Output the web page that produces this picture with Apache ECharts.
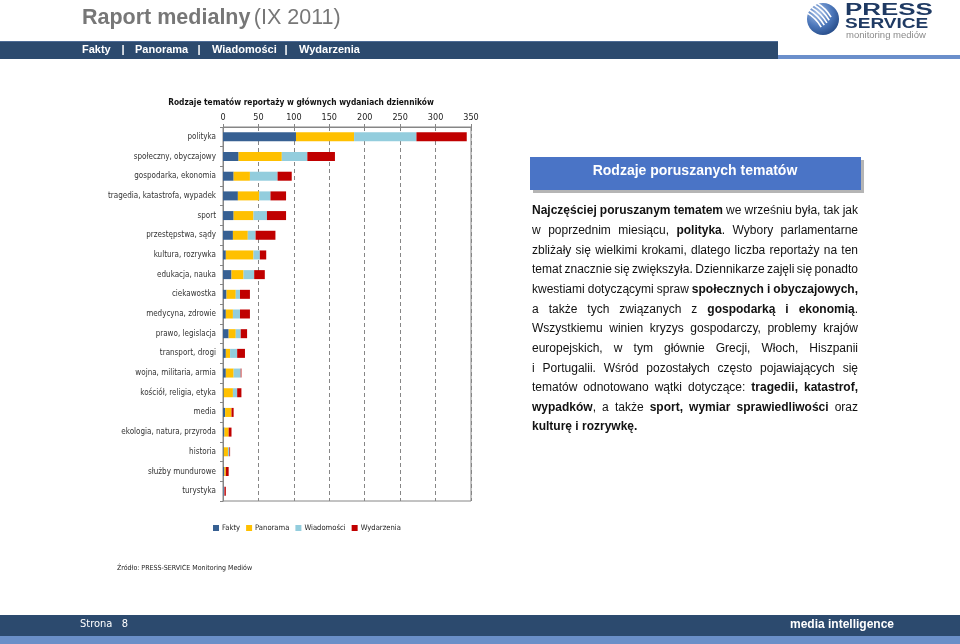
<!DOCTYPE html>
<html>
<head>
<meta charset="utf-8">
<script src="https://cdn.jsdelivr.net/npm/echarts@6.0.0/dist/echarts.min.js"></script>
<style>
html,body{margin:0;padding:0;background:#fff;}
#c{width:960px;height:644px;}
</style>
</head>
<body>
<div id="c"></div>
<script>
// ---- data ----
const categories = ['polityka','społeczny, obyczajowy','gospodarka, ekonomia','tragedia, katastrofa, wypadek','sport','przestępstwa, sądy','kultura, rozrywka','edukacja, nauka','ciekawostka','medycyna, zdrowie','prawo, legislacja','transport, drogi','wojna, militaria, armia','kościół, religia, etyka','media','ekologia, natura, przyroda','historia','służby mundurowe','turystyka'];
const seriesNames = ['Fakty','Panorama','Wiadomości','Wydarzenia'];
const fakty      = [103,22,15,21,15,14, 4,12, 5, 4, 8, 4, 4, 1,3,2,1,2,1];
const panorama   = [ 82,61,23,30,28,21,39,17,13,10,10, 6,11,13,9,6,6,2,0];
const wiadomosci = [ 88,36,39,16,19,11, 9,15, 6,10, 7,10,10, 6,0,0,2,0,1];
const wydarzenia = [ 71,39,20,22,27,28, 9,15,14,14, 9,11, 1, 6,3,4,1,4,2];
const axisTicks = [0,50,100,150,200,250,300,350];
const navItems = ['Fakty','Panorama','Wiadomości','Wydarzenia'];
const paraLines = [
 '{b|Najczęściej} {b|poruszanym} {b|tematem} we wrześniu była, tak jak',
 'w poprzednim miesiącu, {b|polityka}. Wybory parlamentarne',
 'zbliżały się wielkimi krokami, dlatego liczba reportaży na ten',
 'temat znacznie się zwiększyła. Dziennikarze zajęli się ponadto',
 'kwestiami dotyczącymi spraw {b|społecznych} {b|i} {b|obyczajowych,}',
 'a także tych związanych z {b|gospodarką} {b|i} {b|ekonomią}.',
 'Wszystkiemu winien kryzys gospodarczy, problemy krajów',
 'europejskich, w tym głównie Grecji, Włoch, Hiszpanii',
 'i Portugalii. Wśród pozostałych często pojawiających się',
 'tematów odnotowano wątki dotyczące: {b|tragedii,} {b|katastrof,}',
 '{b|wypadków}, a także {b|sport,} {b|wymiar} {b|sprawiedliwości} oraz',
 '{b|kulturę} {b|i} {b|rozrywkę.}'
];
const colors = ['#376092','#FFC000','#93CDDD','#C00000'];
const NARROW = "'DejaVu Sans Condensed',sans-serif";
const SANS = "'Liberation Sans',Arial,sans-serif";

// ---- graphic helpers ----
const graphics = [];
const NAVY = '#2c4a6e';
// header
graphics.push({type:'text', left:82, top:7, style:{text:'{b|Raport medialny} {n|(IX 2011)}', rich:{
  b:{fontFamily:SANS,fontWeight:'bold',fontSize:21.5,fill:'#777777'},
  n:{fontFamily:SANS,fontSize:21.5,fill:'#777777'}}}});
graphics.push({type:'rect', shape:{x:0,y:41,width:778,height:18}, style:{fill:NAVY}});
graphics.push({type:'rect', shape:{x:0,y:41,width:778,height:1}, style:{fill:'#4d6b95'}});
graphics.push({type:'rect', shape:{x:778,y:55,width:182,height:4}, style:{fill:'#6b8fcb'}});
const navX = [82,135,212,299];
const sepX = [123,199,286];
navItems.forEach((t,i)=>graphics.push({type:'text', x:navX[i], y:50, style:{text:t, fill:'#fff', font:"bold 11px "+SANS, verticalAlign:'middle'}}));
sepX.forEach(x=>graphics.push({type:'text', x:x, y:50, style:{text:'|', fill:'#fff', font:"bold 11px "+SANS, verticalAlign:'middle', align:'center'}}));
// logo
const lc = [823,19], lr = 16;
graphics.push({type:'circle', shape:{cx:lc[0],cy:lc[1],r:lr}, style:{fill:{type:'radial',x:0.35,y:0.3,r:0.85,colorStops:[{offset:0,color:'#a9c2e8'},{offset:0.5,color:'#4d78bb'},{offset:1,color:'#1b3f7a'}]}}});
[-7,-3.5,0,3.5,7].forEach(o=>{
  const nx = o/Math.SQRT2, ny = -o/Math.SQRT2;
  const cx = lc[0]-4+nx, cy = lc[1]-4+ny;
  const h = Math.sqrt(Math.max(0,lr*lr-o*o))*0.7;
  const dx = h/Math.SQRT2, dy = h/Math.SQRT2;
  graphics.push({type:'bezierCurve', shape:{x1:cx-dx,y1:cy-dy,x2:cx+dx,y2:cy+dy,cpx1:cx+2,cpy1:cy-2}, style:{stroke:'#fff',lineWidth:1.6,fill:null}});
});
graphics.push({type:'text', x:845, y:11, scaleX:1.62, style:{text:'PRESS', font:"bold 16px "+SANS, fill:'#1f3a63', verticalAlign:'middle'}});
graphics.push({type:'text', x:845, y:24, scaleX:1.27, style:{text:'SERVICE', font:"bold 15px "+SANS, fill:'#1f3a63', verticalAlign:'middle'}});
graphics.push({type:'text', x:846, y:36, scaleX:1.12, style:{text:'monitoring mediów', font:"8.5px "+SANS, fill:'#8a8a8a', verticalAlign:'middle'}});

// right panel box
graphics.push({type:'rect', shape:{x:533,y:160,width:331,height:33}, style:{fill:'#b5b5b5'}});
graphics.push({type:'rect', shape:{x:530,y:157,width:331,height:33}, style:{fill:'#4a74c6'}});
graphics.push({type:'text', x:695, y:171, style:{text:'Rodzaje poruszanych tematów', font:"bold 14px "+SANS, fill:'#fff', align:'center', verticalAlign:'middle'}});

// justified paragraph
const cv = document.createElement('canvas').getContext('2d');
const FN = "12px "+SANS, FB = "bold 12px "+SANS;
function measureWord(w){
  let total=0; const re=/\{b\|([^}]*)\}|([^{]+)/g; let m;
  while((m=re.exec(w))){ if(m[1]!==undefined){cv.font=FB; total+=cv.measureText(m[1]).width;} else {cv.font=FN; total+=cv.measureText(m[2]).width;} }
  return total;
}
cv.font = FN; const spaceW = cv.measureText(' ').width;
const pX0 = 532, pX1 = 858, pY0 = 211, pStep = 19.65;
paraLines.forEach((line,li)=>{
  const words = line.split(' ');
  const ws = words.map(measureWord);
  const sum = ws.reduce((a,b)=>a+b,0);
  const last = li===paraLines.length-1;
  let gap = last ? spaceW : (pX1-pX0-sum)/(words.length-1);
  if(gap<2) gap=2;
  let x = pX0;
  words.forEach((w,i)=>{
    graphics.push({type:'text', x:x, y:pY0+li*pStep, style:{text:w, font:FN, fill:'#111', verticalAlign:'middle',
      rich:{b:{font:FB, fill:'#111'}}}});
    x += ws[i]+gap;
  });
});

// source
graphics.push({type:'text', x:117, y:568, style:{text:'Źródło: PRESS-SERVICE Monitoring Mediów', font:"7px "+NARROW, fill:'#222', verticalAlign:'middle'}});
// footer
graphics.push({type:'rect', shape:{x:0,y:615,width:960,height:21}, style:{fill:NAVY}});
graphics.push({type:'rect', shape:{x:0,y:636,width:960,height:8}, style:{fill:'#6a8fc8'}});
graphics.push({type:'text', x:80, y:624, style:{text:'Strona   8', font:"11px "+NARROW, fill:'#fff', verticalAlign:'middle'}});
graphics.push({type:'text', x:790, y:625, style:{text:'media intelligence', font:"bold 12px "+SANS, fill:'#fff', verticalAlign:'middle'}});

const seriesData = [fakty, panorama, wiadomosci, wydarzenia];
const chart = echarts.init(document.getElementById('c'), null, {renderer:'canvas'});
chart.setOption({
  animation:false,
  backgroundColor:'#fff',
  color: colors,
  title:{text:'Rodzaje tematów reportaży w głównych wydaniach dzienników', left:296, top:94, textAlign:'center',
    textStyle:{fontFamily:NARROW, fontWeight:'bold', fontSize:8.3, color:'#111'}},
  legend:{data:seriesNames, left:208, top:519, itemWidth:6, itemHeight:6, itemGap:6, icon:'rect',
    textStyle:{fontFamily:NARROW, fontSize:7.6, color:'#222', padding:[0,0,0,-2]}},
  grid:{left:223, top:127, width:248, height:374, show:true, borderColor:'#868686', borderWidth:1, backgroundColor:'transparent', containLabel:false},
  xAxis:{type:'value', position:'top', min:axisTicks[0], max:axisTicks[axisTicks.length-1], interval:50,
    axisLine:{show:true, lineStyle:{color:'#868686'}},
    axisTick:{show:true, inside:false, length:3, lineStyle:{color:'#868686'}},
    axisLabel:{fontFamily:NARROW, fontSize:9, color:'#222', margin:5},
    splitLine:{show:true, lineStyle:{color:'#868686', type:[4,3], width:1}}},
  yAxis:{type:'category', data:categories, inverse:true,
    axisLine:{show:true, lineStyle:{color:'#868686'}},
    axisTick:{show:true, length:3, lineStyle:{color:'#868686'}},
    axisLabel:{fontFamily:NARROW, fontSize:8, color:'#333', margin:7}},
  series: seriesData.map((d,i)=>({name:seriesNames[i], type:'bar', stack:'all', data:d, barWidth:9, itemStyle:{color:colors[i]}})),
  graphic: graphics
});
</script>
</body>
</html>
